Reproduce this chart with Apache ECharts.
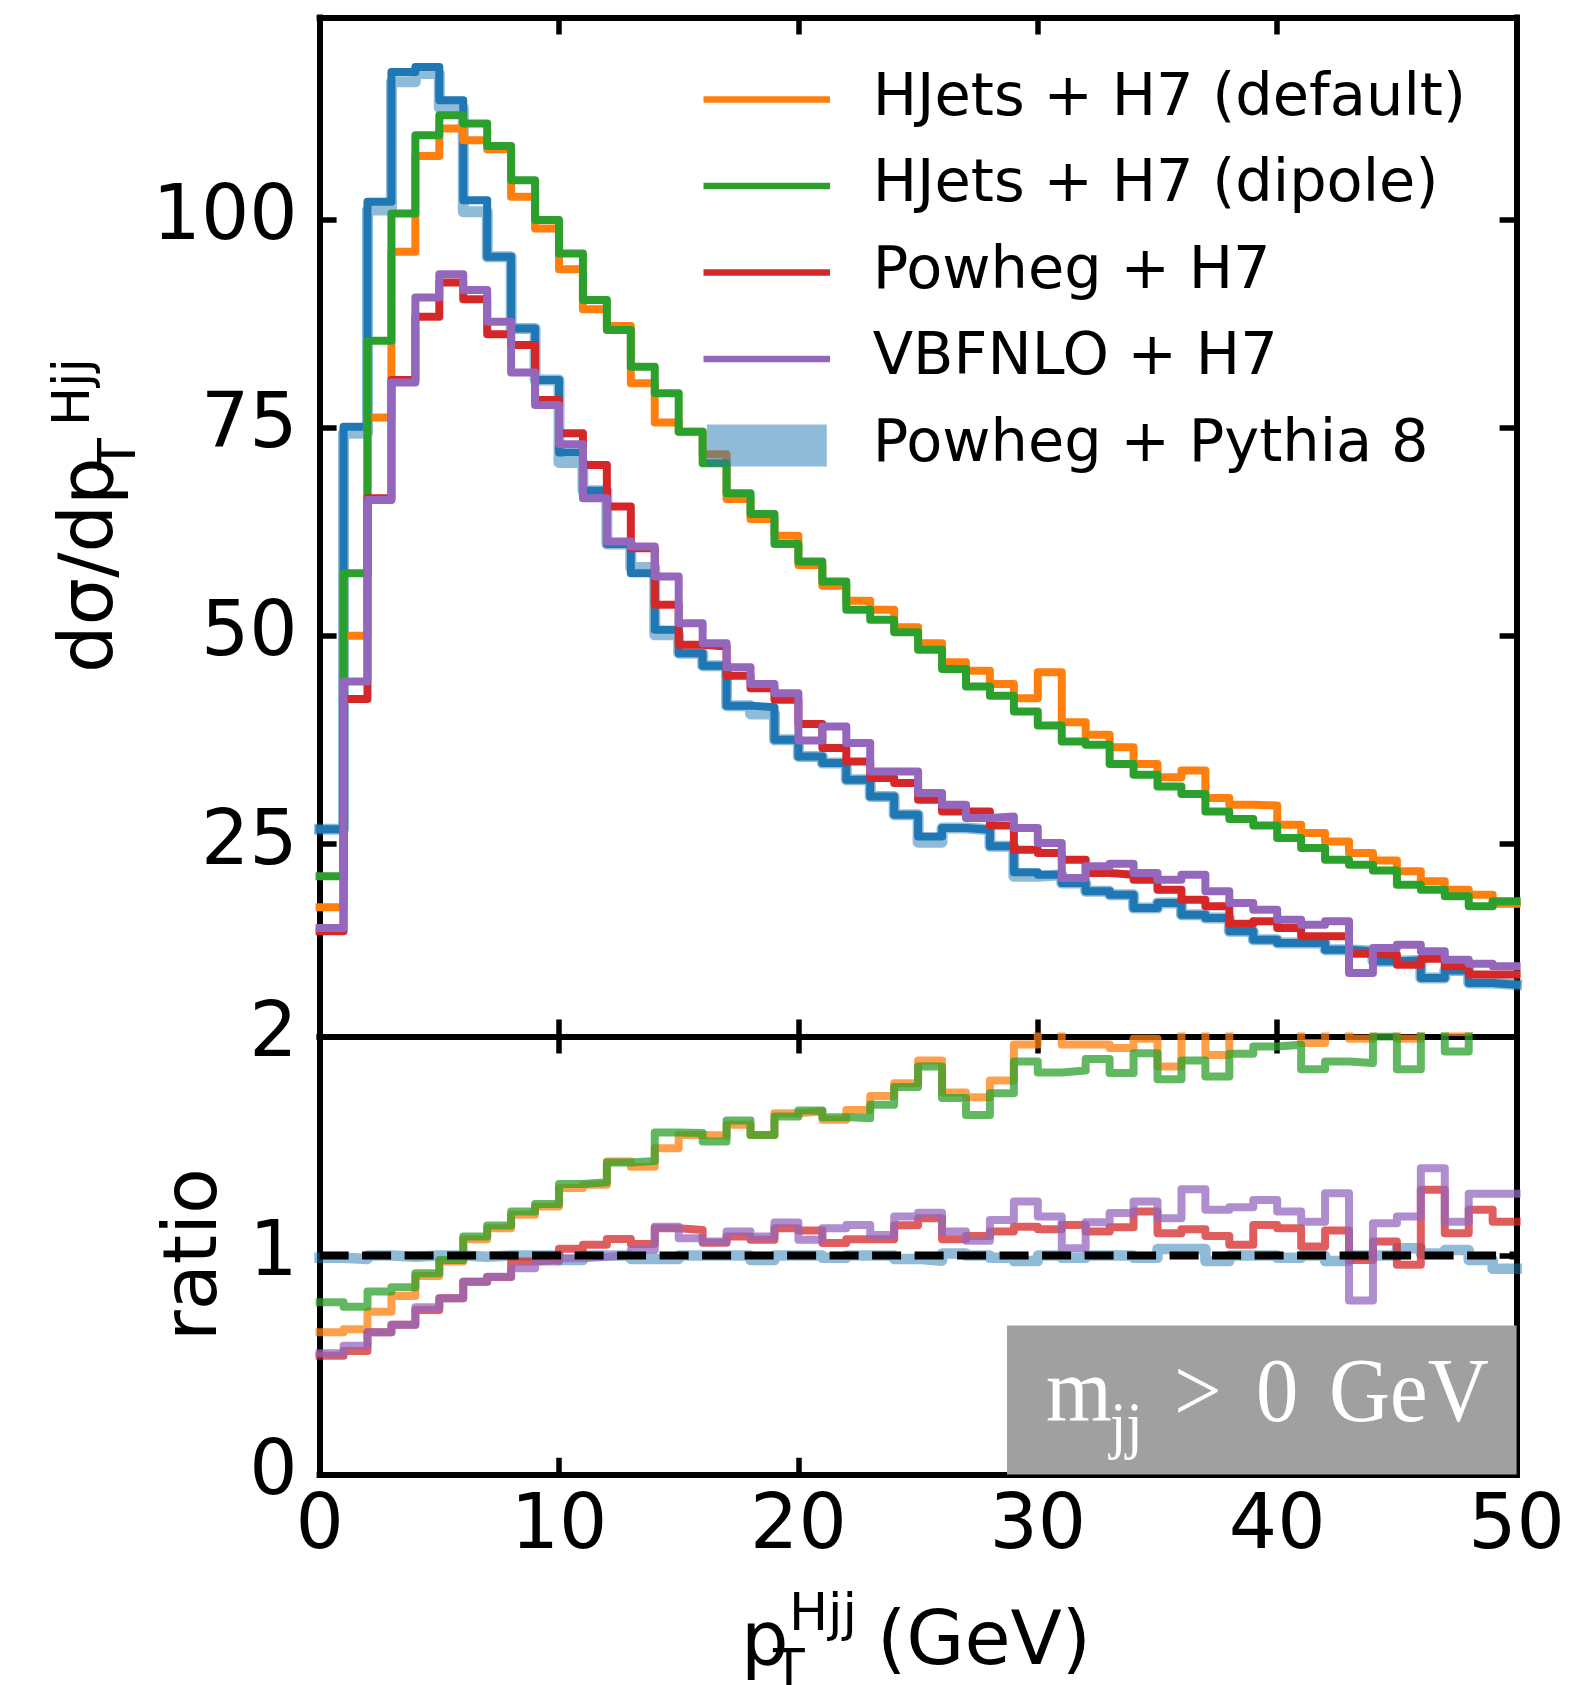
<!DOCTYPE html>
<html><head><meta charset="utf-8">
<script src="https://cdn.jsdelivr.net/npm/echarts@6/dist/echarts.min.js"></script>
<style>html,body{margin:0;padding:0;background:#fff}#c{width:1571px;height:1685px}</style>
</head><body><div id="c"></div>
<script>
// ---------- data ----------
const binEdges = [0,1,2,3,4,5,6,7,8,9,10,11,12,13,14,15,16,17,18,19,20,21,22,23,24,25,26,27,28,29,30,31,32,33,34,35,36,37,38,39,40,41,42,43,44,45,46,47,48,49,50];

const powhegPythia8 = [26.75,75.1,102.1,117.7,118.3,114.3,102.3,95.5,86.9,80.7,72.0,67.4,61.0,57.5,50.7,47.9,46.4,41.6,41.4,37.5,35.5,34.7,32.7,30.7,28.5,25.9,26.9,26.7,24.7,21.6,21.3,20.3,19.3,18.9,17.3,17.9,16.5,16.1,14.5,13.5,13.1,13.1,12.3,12.1,10.9,11.0,8.9,9.8,8.3,8.1];
const powhegPythia8Band = [26.75,74.3,101.1,116.5,117.5,113.4,100.9,95.5,86.9,80.7,70.8,67.4,61.0,58.2,50.1,47.9,46.4,41.6,40.6,37.5,35.5,34.7,32.7,30.7,28.5,25.2,26.9,26.7,24.7,21.1,21.3,20.3,19.3,18.9,17.3,17.9,16.5,16.1,14.5,13.5,13.1,13.1,12.3,12.1,10.9,11.0,8.9,9.8,8.3,8.1];
const hjetsDefault = [17.4,50.0,76.2,96.1,107.6,110.9,109.5,108.4,102.7,98.9,94.0,89.2,87.2,80.3,75.6,74.5,71.8,66.4,64.0,62.0,58.5,56.0,54.2,53.1,51.0,49.1,46.8,45.8,44.2,42.5,45.6,39.6,38.1,36.6,34.6,33.0,33.8,30.5,29.7,29.6,27.3,26.3,25.3,23.9,23.0,21.7,20.5,19.5,18.9,17.8];
const hjetsDipole = [21.1,57.5,85.4,100.7,110.1,112.5,111.5,108.8,104.7,99.9,95.9,90.3,86.7,82.3,79.1,74.5,70.7,67.1,64.6,61.0,58.9,56.5,53.1,51.9,50.4,48.3,46.0,43.9,42.8,40.9,39.2,37.3,36.9,34.6,33.3,31.9,31.0,28.9,28.0,27.2,25.7,24.5,23.1,22.5,21.8,20.1,19.5,18.7,17.5,18.1];
const powhegH7 = [14.5,42.4,66.5,80.7,88.3,92.4,90.4,86.2,84.9,78.3,74.3,70.5,65.5,60.5,53.7,48.9,48.7,45.2,43.7,42.3,39.4,36.5,34.9,32.9,32.3,30.3,28.9,28.9,27.2,24.3,23.9,23.1,21.5,21.3,20.7,19.5,18.3,17.5,15.4,15.7,14.9,13.9,13.9,11.8,11.7,10.5,11.2,10.3,9.3,9.3];
const vbfnloH7 = [14.9,44.5,66.3,80.4,90.6,93.4,91.5,87.7,81.6,77.7,73.0,66.5,61.3,60.7,57.1,51.5,49.1,46.2,44.2,43.1,37.4,39.1,37.1,33.7,33.7,31.1,29.7,28.1,28.3,26.9,25.1,20.9,22.3,22.6,21.5,20.7,21.3,19.3,17.9,17.1,15.9,15.3,15.7,9.5,12.5,12.9,12.1,11.1,10.6,10.3];

const ratioDefault = [0.650,0.664,0.744,0.816,0.907,0.973,1.075,1.125,1.186,1.224,1.308,1.323,1.429,1.406,1.490,1.551,1.548,1.597,1.551,1.650,1.658,1.620,1.665,1.729,1.787,1.890,1.744,1.723,1.799,1.963,2.14,1.963,1.963,1.947,1.99,1.863,2.04,1.916,2.05,2.19,2.08,1.97,2.06,1.99,2.1,1.99,2.3,2.02,2.28,2.2];
const ratioDipole = [0.787,0.767,0.836,0.856,0.919,0.980,1.087,1.137,1.201,1.235,1.327,1.335,1.425,1.432,1.562,1.559,1.521,1.617,1.551,1.635,1.662,1.632,1.627,1.688,1.769,1.863,1.719,1.642,1.741,1.886,1.836,1.845,1.897,1.833,1.924,1.805,1.890,1.817,1.921,1.954,1.962,1.851,1.886,1.879,2.0,1.851,2.19,1.932,2.1,2.2];
const ratioPowhegH7 = [0.543,0.565,0.650,0.684,0.752,0.805,0.881,0.902,0.973,0.980,1.031,1.049,1.076,1.053,1.125,1.117,1.059,1.087,1.072,1.125,1.114,1.057,1.075,1.075,1.138,1.171,1.075,1.090,1.110,1.132,1.120,1.140,1.110,1.129,1.201,1.102,1.120,1.090,1.049,1.140,1.125,1.041,1.114,0.980,1.064,0.958,1.300,1.102,1.209,1.155];
const ratioVbfnloH7 = [0.554,0.589,0.650,0.684,0.764,0.805,0.881,0.904,0.942,0.973,0.988,0.995,1.003,1.026,1.132,1.079,1.064,1.110,1.087,1.151,1.072,1.125,1.140,1.094,1.178,1.196,1.110,1.068,1.163,1.247,1.178,1.034,1.152,1.194,1.247,1.171,1.303,1.209,1.221,1.254,1.201,1.155,1.285,0.795,1.148,1.178,1.399,1.155,1.282,1.282];
const ratioPythia8Band = [0.99,0.985,1.0,0.995,1.0,1.0,0.995,1.0,1.0,1.0,0.98,1.0,1.0,0.985,0.985,1.0,1.0,1.0,0.98,1.0,1.0,0.99,1.0,1.0,0.985,0.977,1.01,1.0,0.99,0.975,1.0,0.99,1.0,1.0,0.99,1.03,1.03,0.975,1.0,1.0,0.99,1.0,0.975,1.0,1.0,1.034,1.01,1.025,0.98,0.94];
const ratioReference = 1;

const xTicks = [0,10,20,30,40,50];
const mainYTicks = [25,50,75,100];
const ratioYTicks = [0,1,2];

const names = ['HJets + H7 (default)','HJets + H7 (dipole)','Powheg + H7','VBFNLO + H7','Powheg + Pythia 8'];
// ---------- helpers ----------
function steps(vals){
  const d = vals.map((v,i)=>[binEdges[i], v]);
  d.push([binEdges[binEdges.length-1], vals[vals.length-1]]);
  return d;
}
const C = {blue:'#1f77b4', orange:'#ff7f0e', green:'#2ca02c', red:'#d62728', purple:'#9467bd'};
const FONT = 'DejaVu Sans';
const SERIF = 'Liberation Serif';
const G = {left:319.6, width:1197};
const LW = 8;

function lineSeries(name, vals, color, xi, yi, opt){
  opt = opt || {};
  return {
    name, type:'line', step:'end', data: steps(vals), xAxisIndex:xi, yAxisIndex:yi,
    symbol:'none', showSymbol:false, animation:false, clip:true,
    lineStyle:{color, width: opt.width||LW, opacity: opt.opacity==null?1:opt.opacity, cap:'square', join:'round'},
    itemStyle:{color}, z: opt.z||2, silent:true
  };
}
function xAx(grid, pos, labels){
  return {type:'value', gridIndex:grid, position:pos, min:0, max:50, interval:10,
    axisLine:{show:true, onZero:false, lineStyle:{color:'#000', width:6, cap:'square'}},
    axisTick:{show:true, inside:true, length:17, lineStyle:{color:'#000', width:5.5}, customValues: xTicks},
    axisLabel:{show:labels, customValues: xTicks, fontSize:76, fontFamily:FONT, color:'#000', margin:16, showMinLabel:true, showMaxLabel:true},
    splitLine:{show:false}};
}
function yAx(grid, pos, labels, min, max, ticks, pad){
  return {type:'value', gridIndex:grid, position:pos, min, max,
    axisLine:{show:true, onZero:false, lineStyle:{color:'#000', width:6, cap:'square'}},
    axisTick:{show:true, inside:true, length:17, lineStyle:{color:'#000', width:5.5}, customValues: ticks},
    axisLabel:{show:labels, customValues: ticks, fontSize:76, fontFamily:FONT, color:'#000', margin:22, padding:[pad,0,0,0]},
    splitLine:{show:false}};
}
function txt(x, y, text, size, opt){
  opt = opt || {};
  return {type:'text', x, y, rotation: opt.rotation||0, scaleX: opt.scaleX||1, z: opt.z||10, silent:true,
    style:{text, fontSize:size, fontFamily: opt.family||FONT, fill: opt.fill||'#000', align: opt.align||'left', verticalAlign:'middle'}};
}

const chart = echarts.init(document.getElementById('c'), null, {renderer:'canvas'});
const bandColor = 'rgba(31,119,180,0.5)';
const option = {
  animation:false,
  backgroundColor:'#fff',
  grid:[
    {left:G.left, top:17.5, width:G.width, height:1019},
    {left:G.left, top:1036.5, width:G.width, height:438.2}
  ],
  xAxis:[ xAx(0,'bottom',false), xAx(0,'top',false), xAx(1,'bottom',true), xAx(1,'top',false) ],
  yAxis:[ yAx(0,'left',true,1.87,124.23,mainYTicks,9), yAx(0,'right',false,1.87,124.23,mainYTicks,9),
          yAx(1,'left',true,0,2,ratioYTicks,16), yAx(1,'right',false,0,2,ratioYTicks,16) ],
  legend:{
    orient:'vertical', left:703.5, top:69.5, padding:0, itemGap:26.5,
    itemWidth:120, itemHeight:42, selectedMode:false,
    lineStyle:{width:6.5, cap:'square'},
    textStyle:{fontSize:59, fontFamily:FONT, color:'#000', lineHeight:60, padding:[0,0,0,41]},
    data:[
      {name:names[0], itemStyle:{opacity:0}},
      {name:names[1], itemStyle:{opacity:0}},
      {name:names[2], itemStyle:{opacity:0}},
      {name:names[3], itemStyle:{opacity:0}},
      {name:names[4], icon:'rect', itemStyle:{color:bandColor, opacity:1}}
    ]
  },
  series:[
    lineSeries(names[4], powhegPythia8Band, bandColor, 0, 0, {width:11}),
    lineSeries('Powheg + Pythia 8 (central)', powhegPythia8, C.blue, 0, 0),
    lineSeries(names[0], hjetsDefault, C.orange, 0, 0),
    lineSeries(names[1], hjetsDipole, C.green, 0, 0),
    lineSeries(names[2], powhegH7, C.red, 0, 0),
    lineSeries(names[3], vbfnloH7, C.purple, 0, 0),
    // ratio panel
    lineSeries('ratio Pythia8 band', ratioPythia8Band, bandColor, 2, 2, {width:10.5}),
    {name:'ratio reference', type:'line', xAxisIndex:2, yAxisIndex:2, symbol:'none', animation:false, silent:true,
      data:[[binEdges[0], ratioReference],[binEdges[binEdges.length-1], ratioReference]],
      lineStyle:{color:'#000', width:8, type:[29,13.5], cap:'butt'}},
    lineSeries('ratio default', ratioDefault, C.orange, 2, 2, {opacity:0.75}),
    lineSeries('ratio dipole', ratioDipole, C.green, 2, 2, {opacity:0.75}),
    lineSeries('ratio powheg', ratioPowhegH7, C.red, 2, 2, {opacity:0.75}),
    lineSeries('ratio vbfnlo', ratioVbfnloH7, C.purple, 2, 2, {opacity:0.75})
  ],
  graphic:[
    // annotation box
    {type:'rect', shape:{x:1007, y:1325.5, width:509.6, height:149}, style:{fill:'#a0a0a0'}, z:5, silent:true},
    txt(1046, 1397, 'm', 92, {family:SERIF, fill:'#fff', scaleX:0.92}),
    txt(1110, 1429, 'jj', 64, {family:SERIF, fill:'#fff', scaleX:0.92}),
    txt(1174, 1397, '>', 92, {family:SERIF, fill:'#fff', scaleX:0.92}),
    txt(1256, 1397, '0', 92, {family:SERIF, fill:'#fff', scaleX:0.92}),
    txt(1329, 1397, 'GeV', 92, {family:SERIF, fill:'#fff', scaleX:0.92}),
    // x title
    txt(741, 1645, 'p', 75),
    txt(773, 1672, 'T', 52),
    txt(789, 1616, 'Hjj', 52),
    txt(877, 1645, '(GeV)', 75),
    // ratio title
    txt(197, 1254.5, 'ratio', 75, {rotation:Math.PI/2, align:'center'}),
    // main y title
    {type:'group', x:93, y:673, rotation:Math.PI/2, children:[
      txt(0, 0, 'd\u03c3/dp', 75),
      txt(203, 28, 'T', 52),
      txt(247, -18, 'Hjj', 52)
    ]}
  ]
};
chart.setOption(option);
</script></body></html>
